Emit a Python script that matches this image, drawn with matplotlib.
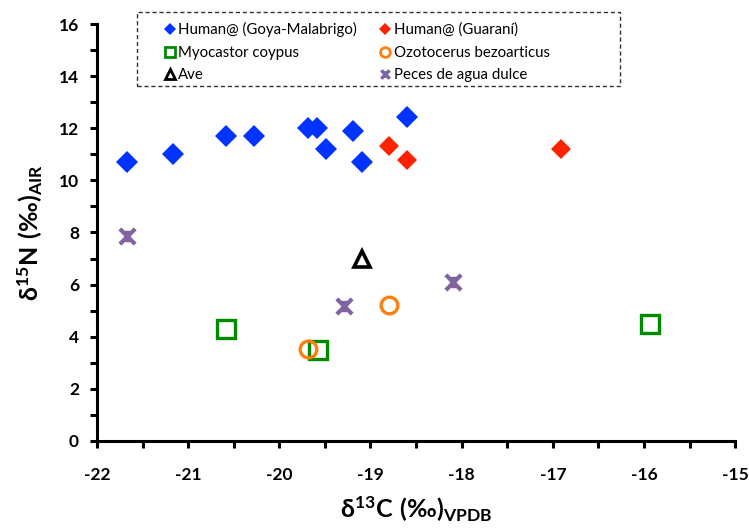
import matplotlib.pyplot as plt
import numpy as np
from matplotlib.path import Path
from matplotlib.patches import Rectangle

plt.rcParams['font.family'] = ['Lato', 'DejaVu Sans']
plt.rcParams['mathtext.fontset'] = 'custom'
plt.rcParams['mathtext.rm'] = 'Lato'
plt.rcParams['mathtext.bf'] = 'Lato:bold'
plt.rcParams['axes.unicode_minus'] = False

# data
goya_x = [-21.67, -21.17, -20.58, -20.28, -19.69, -19.59, -19.49, -19.19, -19.09, -18.6]
goya_y = [10.72, 11.01, 11.72, 11.72, 12.02, 12.02, 11.2, 11.91, 10.72, 12.42]
guarani_x = [-18.8, -18.6, -16.91]
guarani_y = [11.32, 10.78, 11.2]
myo_x = [-20.58, -19.58, -15.93]
myo_y = [4.3, 3.49, 4.49]
ozo_x = [-18.8, -19.69]
ozo_y = [5.22, 3.52]
ave_x = [-19.09]
ave_y = [6.98]
peces_x = [-21.67, -19.29, -18.09]
peces_y = [7.88, 5.18, 6.09]

labels = ['Human@ (Goya-Malabrigo)', 'Human@ (Guaraní)', 'Myocastor coypus',
          'Ozotocerus bezoarticus', 'Ave', 'Peces de agua dulce']
xtick_vals = [-22, -21, -20, -19, -18, -17, -16, -15]
xtick_labels = ['-22', '-21', '-20', '-19', '-18', '-17', '-16', '-15']
ytick_vals = [0, 2, 4, 6, 8, 10, 12, 14, 16]
ytick_labels = ['0', '2', '4', '6', '8', '10', '12', '14', '16']

# x with a short vertical stroke, like the spreadsheet "star" marker
star = Path([(-1, -1), (1, 1), (-1, 1), (1, -1), (0, -0.75), (0, 0.75)],
            [Path.MOVETO, Path.LINETO, Path.MOVETO, Path.LINETO, Path.MOVETO, Path.LINETO])

fig = plt.figure(figsize=(7.49, 5.31), dpi=100)
ax = fig.add_axes([0.1295, 0.1695, 0.852, 0.7853])

ax.plot(goya_x, goya_y, 'D', color='#0033ff', ms=11, mew=0, linestyle='none')
ax.plot(guarani_x, guarani_y, 'D', color='#ff2200', ms=10.5, mew=0, linestyle='none')
ax.plot(myo_x, myo_y, 's', mfc='none', mec='#008a00', ms=13, mew=2.4, linestyle='none')
ax.plot(ozo_x, ozo_y, 'o', mfc='none', mec='#ff7f0e', ms=12, mew=2.4, linestyle='none')
ax.plot(ave_x, ave_y, '^', mfc='none', mec='black', ms=12, mew=2.6, linestyle='none')
ax.plot(peces_x, peces_y, marker=star, color='#8064a2', ms=11, mew=3, linestyle='none')

ax.set_xlim(-22, -15)
ax.set_ylim(0, 16)

for s in ['top', 'right']:
    ax.spines[s].set_visible(False)
for s in ['left', 'bottom']:
    ax.spines[s].set_linewidth(2.2)

ax.tick_params(which='both', direction='out', length=5, width=2.2)
ax.tick_params(axis='x', pad=14)
ax.tick_params(axis='y', pad=8)

ax.set_xticks(xtick_vals)
ax.set_xticklabels(xtick_labels)
ax.set_xticks(np.arange(-21.5, -15, 1), minor=True)
ax.set_yticks(ytick_vals)
ax.set_yticklabels(ytick_labels)
ax.set_yticks(np.arange(1, 16, 2), minor=True)

ax.set_xlabel(r'$\mathbf{δ^{13}C\ (‰)_{VPDB}}$', fontsize=18, labelpad=8)
ax.set_ylabel(r'$\mathbf{δ^{15}N\ (‰)_{AIR}}$', fontsize=18, labelpad=10)

# dashed box behind the legend
ax.add_patch(Rectangle((0.0625, 0.851), 0.7575, 0.178, transform=ax.transAxes,
                       fill=True, facecolor='white', edgecolor='#333333',
                       linestyle=(0, (3, 2)), linewidth=1, clip_on=False, zorder=4))

# legend handles with small markers
small = [
    plt.Line2D([], [], marker='D', color='#0033ff', ms=6, mew=0, linestyle='none'),
    plt.Line2D([], [], marker='D', color='#ff2200', ms=6, mew=0, linestyle='none'),
    plt.Line2D([], [], marker='s', mfc='none', mec='#008a00', ms=7, mew=2, linestyle='none'),
    plt.Line2D([], [], marker='o', mfc='none', mec='#ff7f0e', ms=7, mew=2, linestyle='none'),
    plt.Line2D([], [], marker='^', mfc='none', mec='black', ms=7, mew=2, linestyle='none'),
    plt.Line2D([], [], marker=star, color='#8064a2', ms=6, mew=2.5, linestyle='none'),
]
order = [0, 2, 4, 1, 3, 5]
leg = ax.legend([small[i] for i in order], [labels[i] for i in order], ncol=2,
                loc='upper left', bbox_to_anchor=(0.1, 1.012),
                prop={'family': 'Lato', 'size': 10.8, 'weight': 'normal'}, frameon=False,
                handlelength=0.8, handletextpad=0.15, borderpad=0.2, labelspacing=0.58,
                columnspacing=1.5, borderaxespad=0)
leg.set_zorder(5)

plt.setp(ax.get_xticklabels() + ax.get_yticklabels(),
         fontfamily='Lato', fontweight='bold', fontsize=12.5)

fig.savefig('out.png', dpi=100)
